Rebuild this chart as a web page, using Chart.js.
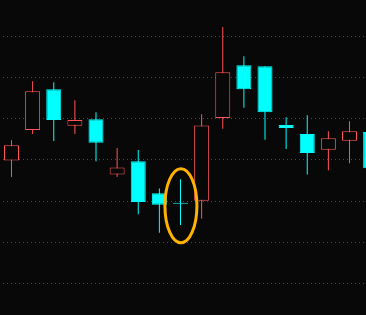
<!DOCTYPE html>
<html>
<head>
<meta charset="UTF-8">
<style>
  html, body { margin: 0; padding: 0; background: #080808; }
  #wrap { width: 366px; height: 315px; }
</style>
</head>
<body>
<div id="wrap">
  <canvas id="myChart" width="366" height="315"></canvas>
</div>

<script src="https://cdn.jsdelivr.net/npm/chart.js@4.4.0/dist/chart.umd.min.js"></script>

<script>
  // candle data (price units, grid every 1.0)
  const opens  = [12.99, 13.73, 14.72, 13.83, 13.99, 12.65, 12.97, 12.19, 11.95, 12.01, 14.02, 15.30, 15.28, 13.85, 13.63, 13.25, 13.47, 13.68];
  const closes = [13.36, 14.67, 13.97, 13.97, 13.42, 12.82, 11.98, 11.91, 11.94, 13.84, 15.13, 14.72, 14.16, 13.78, 13.17, 13.53, 13.70, 12.80];
  const highs  = [13.48, 14.91, 14.89, 14.45, 14.16, 13.29, 13.24, 12.31, 12.53, 14.11, 16.23, 15.52, 15.28, 14.04, 14.09, 13.70, 13.94, 13.75];
  const lows   = [12.59, 13.63, 13.46, 13.63, 12.97, 12.59, 11.68, 11.23, 11.42, 11.57, 13.76, 14.27, 13.49, 13.27, 12.65, 12.75, 12.92, 12.60];
  const gridLevels = [10, 11, 12, 13, 14, 15, 16];

  // the circled candle and the price band the ring covers
  const highlightIndex = 8;
  const highlightBand = [10.99, 12.79];

  const UP = '#FF5555';
  const DOWN = '#00FFFF';
  const BG = '#080808';

  const isUp = (i) => closes[i] >= opens[i];

  const bodies = opens.map((o, i) => ({ x: i, y: [o, closes[i]] }));
  const wicks = lows.map((l, i) => ({ x: i, y: [l, highs[i]] }));

  const ringPlugin = {
    id: 'ring',
    afterDatasetsDraw(chart) {
      const { ctx, scales } = chart;
      const cx = scales.x.getPixelForValue(highlightIndex + 0.02);
      const top = scales.y.getPixelForValue(highlightBand[1]);
      const bottom = scales.y.getPixelForValue(highlightBand[0]);
      ctx.save();
      ctx.beginPath();
      ctx.ellipse(cx, (top + bottom) / 2, 16, (bottom - top) / 2, 0, 0, Math.PI * 2);
      ctx.strokeStyle = '#FFB300';
      ctx.lineWidth = 3;
      ctx.stroke();
      ctx.restore();
    }
  };

  const bgPlugin = {
    id: 'bg',
    beforeDraw(chart) {
      const { ctx, width, height } = chart;
      ctx.save();
      ctx.fillStyle = BG;
      ctx.fillRect(0, 0, width, height);
      ctx.restore();
    }
  };

  const data = {
    datasets: [
      {
        label: 'body',
        data: bodies,
        order: 1,
        grouped: false,
        barThickness: 15,
        minBarLength: 1,
        borderWidth: 1,
        borderSkipped: false,
        inflateAmount: 0,
        backgroundColor: (c) => isUp(c.dataIndex) ? BG : DOWN,
        borderColor: (c) => isUp(c.dataIndex) ? UP : DOWN,
      },
      {
        label: 'wick',
        data: wicks,
        order: 2,
        grouped: false,
        barThickness: 1,
        borderWidth: 0,
        inflateAmount: 0,
        backgroundColor: (c) => isUp(c.dataIndex) ? UP : DOWN,
      }
    ]
  };

  const config = {
    type: 'bar',
    data: data,
    options: {
      responsive: false,
      animation: false,
      layout: { padding: 0 },
      plugins: {
        legend: { display: false },
        tooltip: { enabled: false },
      },
      scales: {
        x: {
          type: 'linear',
          display: false,
          offset: false,
          min: -0.5444,
          max: 16.781,
        },
        y: {
          type: 'linear',
          display: true,
          min: 9.2348,
          max: 16.8866,
          afterBuildTicks: (scale) => {
            scale.ticks = gridLevels.map(v => ({ value: v }));
          },
          ticks: { display: false },
          // dotted grid lines (v4 keeps the dash on border)
          border: { display: false, dash: [1, 3], dashOffset: 1 },
          grid: {
            drawTicks: false,
            color: '#4a4a4a',
            lineWidth: 1,
          },
        }
      }
    },
    plugins: [bgPlugin, ringPlugin]
  };

  new Chart(document.getElementById('myChart'), config);
</script>
</body>
</html>
